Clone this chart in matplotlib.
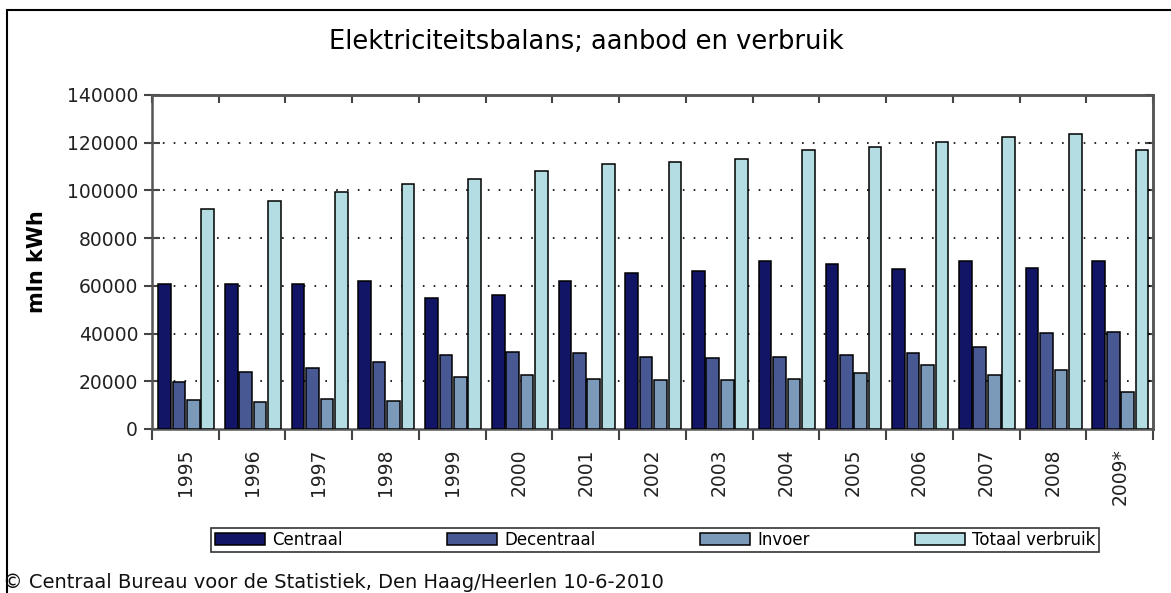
import matplotlib.pyplot as plt
import numpy as np
from matplotlib.patches import Rectangle

plt.rcParams['font.family'] = ['DejaVu Sans']

# Data (mln kWh)
years = ['1995', '1996', '1997', '1998', '1999', '2000', '2001', '2002',
         '2003', '2004', '2005', '2006', '2007', '2008', '2009*']
centraal = [60600, 60600, 60600, 61900, 54900, 56300, 61900, 65500,
            66200, 70400, 69000, 66900, 70400, 67600, 70400]
decentraal = [19800, 23900, 25400, 28100, 30900, 32300, 31700, 30300,
              29600, 30300, 31000, 31700, 34500, 40100, 40800]
invoer = [12000, 11200, 12700, 11900, 21800, 22500, 21100, 20400,
          20400, 21100, 23300, 26800, 22600, 24700, 15500]
totaal = [92300, 95700, 99200, 102600, 104700, 108200, 111000, 111900,
          113300, 116800, 118200, 120300, 122400, 123800, 116800]

series = [centraal, decentraal, invoer, totaal]
names = ['Centraal', 'Decentraal', 'Invoer', 'Totaal verbruik']
colors = ['#121466', '#475892', '#7b9aba', '#b3dde2']

fig = plt.figure(figsize=(11.71, 5.93), dpi=100)
ax = fig.add_axes([152 / 1171, 1 - 429 / 593, 1001 / 1171, 334 / 593])

x = np.arange(len(years))
w = 0.19
step = 0.216
for k, (vals, name, col) in enumerate(zip(series, names, colors)):
    ax.bar(x + (k - 1.5) * step + 0.012, vals, width=w, color=col,
           edgecolor='black', linewidth=1.1, label=name, zorder=3)

ax.set_xlim(-0.5, len(years) - 0.5)
ax.set_ylim(0, 140000)
yt = np.arange(0, 140001, 20000)
ax.set_yticks(yt)
ax.set_yticklabels([str(v) for v in yt], fontsize=13.5, color='#222222')

# horizontal dotted grid
for v in yt[1:-1]:
    ax.axhline(v, color='black', linestyle=(0, (1, 5.5)), linewidth=1.2, zorder=1)

bounds = np.arange(-0.5, len(years))
ax.set_xticks(x)
ax.set_xticklabels(years, rotation=90, fontsize=13.5, color='#222222')
ax.set_xticks(bounds, minor=True)
ax.tick_params(axis='x', which='major', length=0, pad=14)
ax.tick_params(axis='x', which='minor', length=8, width=1.5, color='#444444',
               direction='out')
ax.tick_params(axis='y', which='major', length=12, width=1.5, color='#444444',
               direction='inout', pad=4)

# inward ticks on top and right
top = ax.secondary_xaxis('top')
top.set_xticks(bounds)
top.set_xticklabels([])
top.tick_params(length=6, width=1.5, color='#444444', direction='in')
right = ax.secondary_yaxis('right')
right.set_yticks(yt)
right.set_yticklabels([])
right.tick_params(length=6, width=1.5, color='#444444', direction='in')

for a in (ax, top, right):
    for s in a.spines.values():
        s.set_color('#555555')
        s.set_linewidth(1.8)

ax.set_ylabel('mln kWh', fontsize=15, fontweight='bold')
ax.yaxis.set_label_coords(-0.105, 0.5)

fig.text(586 / 1171, 1 - 42 / 593, 'Elektriciteitsbalans; aanbod en verbruik',
         ha='center', va='center', fontsize=18.5)

leg = fig.legend(loc='center', bbox_to_anchor=(655 / 1171, 1 - 540 / 593),
                 ncol=4, fontsize=12, frameon=True, fancybox=False,
                 handlelength=3.0, handleheight=0.75, handletextpad=0.42,
                 columnspacing=6.3, borderpad=0.2, borderaxespad=0)
leg.get_frame().set_edgecolor('black')
leg.get_frame().set_linewidth(1.2)

fig.text(3 / 1171, 1 - 582 / 593,
         '\u00a9 Centraal Bureau voor de Statistiek, Den Haag/Heerlen 10-6-2010',
         ha='left', va='center', fontsize=14, color='#111111')

# outer frame (top and left edges)
fig.patches.append(Rectangle((7 / 1171, -0.1), 1.2, 1 - 10 / 593 + 0.1,
                             transform=fig.transFigure, fill=False,
                             edgecolor='black', linewidth=1.5))

fig.savefig('out.png', dpi=100)
